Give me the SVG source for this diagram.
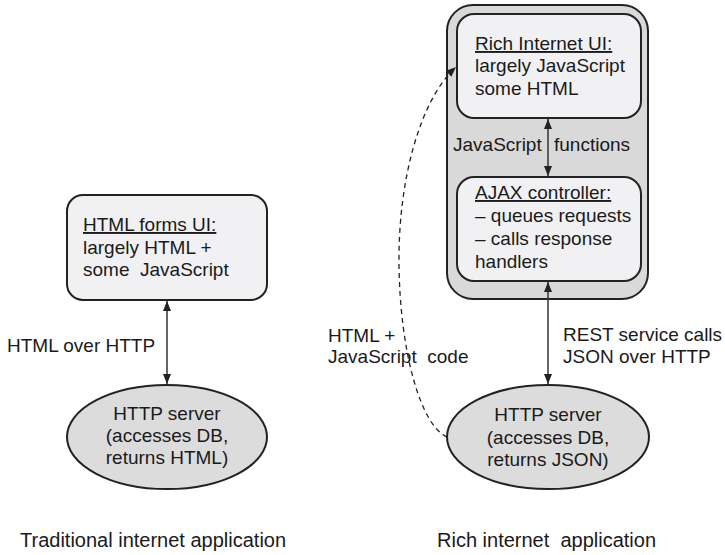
<svg xmlns="http://www.w3.org/2000/svg" width="725" height="555" viewBox="0 0 725 555">
<style>
text{font-family:"Liberation Sans",Arial,sans-serif;font-size:19px;fill:#1a1a1a}
.big{font-size:20px}
.box{fill:#f1f1f3;stroke:#222;stroke-width:2}
.outer{fill:#d9d9d9;stroke:#222;stroke-width:2}
.ell{fill:#dcdcdc;stroke:#222;stroke-width:2}
.arr{fill:none;stroke:#333;stroke-width:1.5}
.dash{fill:none;stroke:#222;stroke-width:1.3;stroke-dasharray:5 4}
.u{text-decoration:underline}
</style>
<defs>
<marker id="ah" viewBox="0 0 10 10" refX="10" refY="5" markerWidth="10" markerHeight="10" markerUnits="userSpaceOnUse" orient="auto-start-reverse">
<path d="M0,1 L10,5 L0,9 z" fill="#222"/>
</marker>
</defs>
<rect width="725" height="555" fill="#fff"/>

<g id="rich-container">
<rect class="outer" x="447" y="5" width="201" height="294" rx="26"/>
</g>

<g id="html-forms-ui">
<rect class="box" x="67" y="195" width="200" height="105" rx="16"/>
<text x="83" y="231"><tspan class="u">HTML forms UI:</tspan></text>
<text x="83" y="254">largely HTML +</text>
<text x="83" y="276" xml:space="preserve">some  JavaScript</text>
</g>

<g id="http-server-left">
<ellipse class="ell" cx="167" cy="437" rx="100" ry="52"/>
<text x="167" y="420" text-anchor="middle">HTTP server</text>
<text x="167" y="442" text-anchor="middle">(accesses DB,</text>
<text x="167" y="464" text-anchor="middle">returns HTML)</text>
</g>

<g id="rich-ui">
<rect class="box" x="457" y="14" width="184" height="104" rx="17"/>
<text x="475" y="50"><tspan class="u">Rich Internet UI:</tspan></text>
<text x="475" y="72">largely JavaScript</text>
<text x="475" y="95">some HTML</text>
</g>

<g id="ajax-controller">
<rect class="box" x="457" y="177" width="184" height="104" rx="17"/>
<text x="475" y="199"><tspan class="u">AJAX controller:</tspan></text>
<text x="475" y="222">– queues requests</text>
<text x="475" y="245">– calls response</text>
<text x="475" y="268">handlers</text>
</g>

<g id="http-server-right">
<ellipse class="ell" cx="548" cy="437" rx="101" ry="52"/>
<text x="548" y="421" text-anchor="middle">HTTP server</text>
<text x="548" y="444" text-anchor="middle">(accesses DB,</text>
<text x="548" y="466" text-anchor="middle">returns JSON)</text>
</g>

<g id="connectors">
<line class="arr" x1="167" y1="301" x2="167" y2="384" marker-start="url(#ah)" marker-end="url(#ah)"/>
<line class="arr" x1="548" y1="119" x2="548" y2="176" marker-start="url(#ah)" marker-end="url(#ah)"/>
<line class="arr" x1="548" y1="282" x2="548" y2="384" marker-start="url(#ah)" marker-end="url(#ah)"/>
<path class="dash" d="M447,437 C420,425 400,350 399,265 C398,180 420,100 456,67" marker-end="url(#ah)"/>
</g>

<g id="labels">
<text x="7" y="352">HTML over HTTP</text>
<text x="453" y="151">JavaScript</text>
<text x="554" y="151">functions</text>
<text x="328" y="342">HTML +</text>
<text x="328" y="363" xml:space="preserve">JavaScript  code</text>
<text x="563" y="341">REST service calls</text>
<text x="563" y="363">JSON over HTTP</text>
<text class="big" x="20" y="547">Traditional internet application</text>
<text class="big" x="437" y="547" xml:space="preserve">Rich internet  application</text>
</g>
</svg>
